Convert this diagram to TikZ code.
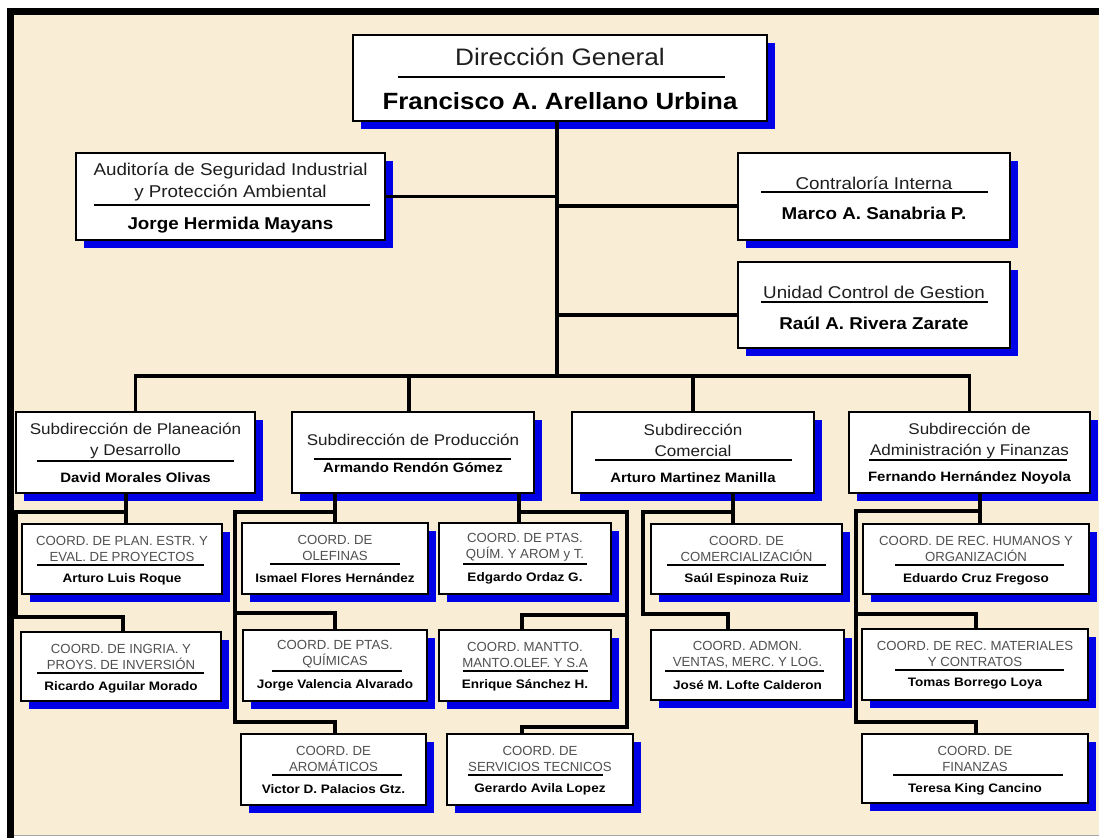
\documentclass[tikz,border=0pt]{standalone}
\usepackage{fontspec}
\setmainfont{Liberation Sans}[FakeStretch=1.1]
\newfontfamily\plainsans{Liberation Sans}
\usetikzlibrary{shadows}
\definecolor{bg}{RGB}{249,237,214}
\definecolor{shblue}{RGB}{0,0,230}
\definecolor{tgray}{RGB}{80,80,80}
\definecolor{tdark}{RGB}{30,30,30}
\tikzset{
  box/.style={draw=black, line width=2pt, fill=white, inner sep=0pt, outer sep=0pt,
    drop shadow={shadow xshift=8pt, shadow yshift=-8pt, fill=shblue, opacity=1}},
  conn/.style={draw=black, line width=3.8pt, line join=miter},
  uline/.style={draw=black, line width=1.6pt},
  dgt/.style={font=\fontsize{23.8}{28}\selectfont, text=tdark, inner sep=0pt},
  dgn/.style={font=\fontsize{23.5}{28}\selectfont\bfseries, inner sep=0pt},
  lt/.style={font=\fontsize{17.1}{22}\selectfont, text=tdark, align=center, inner sep=0pt},
  ln/.style={font=\fontsize{17.1}{22}\selectfont\bfseries, inner sep=0pt},
  st/.style={font=\fontsize{15.5}{21}\selectfont, text=tdark, align=center, inner sep=0pt},
  sn/.style={font=\fontsize{13.6}{16}\selectfont\bfseries, inner sep=0pt},
  ct/.style={font=\plainsans\fontsize{13.2}{16}\selectfont, text=tgray, align=center, inner sep=0pt},
  cn/.style={font=\fontsize{12.3}{15}\selectfont\bfseries, inner sep=0pt}
}
\newcommand\obox[5]{\node[box, minimum width={(#4)-(#2)}, minimum height={(#5)-(#3)}] (#1) at ({((#2)+(#4))/2},{((#3)+(#5))/2}) {};}
\newcommand\cbox[9]{%
  \obox{#1}{#2}{#3}{#4}{#5}
  \node[ct] (#1t) at ({((#2)+(#4))/2},{(#3)+24.5}) {#6};
  \draw[uline] (#8,{(#3)+41}) -- (#9,{(#3)+41});
  \node[cn] (#1n) at ({((#2)+(#4))/2},{(#3)+55}) {#7};
}
\begin{document}
\begin{tikzpicture}[x=1pt,y=-1pt]
\useasboundingbox (0,0) rectangle (1099,838);
\fill[white] (0,0) rectangle (1099,838);
\fill[bg] (12,13) rectangle (1099,835);
\fill[black] (7,8) rectangle (14,838);
\fill[black] (7,8) rectangle (1099,15);
\draw[gray!70, line width=1.5pt] (14,835.5) -- (1099,835.5);

% level 1
\obox{dg}{353}{35}{767}{121}
\node[dgt] (dgt) at (560,57) {Dirección General};
\draw[uline] (398,77) -- (725,77);
\node[dgn] (dgn) at (560,101) {Francisco A. Arellano Urbina};

% level 2
\obox{aud}{76}{153}{385}{240}
\node[lt] (audt) at (230.5,182) {Auditoría de Seguridad Industrial\\y Protección Ambiental};
\draw[uline] (94,205) -- (370,205);
\node[ln] (audn) at (230.5,225) {Jorge Hermida Mayans};

\obox{ci}{738}{153}{1010}{240}
\node[lt] (cit) at (874,183) {Contraloría Interna};
\draw[uline] (761,192) -- (988,192);
\node[ln] (cin) at (874,213) {Marco A. Sanabria P.};

\obox{ucg}{738}{262}{1010}{348}
\node[lt] (ucgt) at (874,292) {Unidad Control de Gestion};
\draw[uline] (761,302) -- (988,302);
\node[ln] (ucgn) at (874,323) {Raúl A. Rivera Zarate};

% level 3
\obox{s1}{16}{412}{255}{493}
\node[st] (s1t) at (135.5,440.5) {Subdirección de Planeación\\y Desarrollo};
\draw[uline] (37,461) -- (234,461);
\node[sn] (s1n) at (135.5,478) {David Morales Olivas};

\obox{s2}{292}{412}{534}{493}
\node[st] (s2t) at (413,440) {Subdirección de Producción};
\draw[uline] (314,459) -- (511,459);
\node[sn] (s2n) at (413,468) {Armando Rendón Gómez};

\obox{s3}{572}{412}{814}{493}
\node[st] (s3t) at (693,440.5) {Subdirección\\Comercial};
\draw[uline] (595,460) -- (792,460);
\node[sn] (s3n) at (693,478) {Arturo Martinez Manilla};

\obox{s4}{849}{412}{1090}{493}
\node[st] (s4t) at (969.5,440.5) {Subdirección de\\Administración y Finanzas};
\draw[uline] (869,460) -- (1067,460);
\node[sn] (s4n) at (969.5,478) {Fernando Hernández Noyola};

% level 4
\cbox{c1}{22}{524}{222}{594}{COORD. DE PLAN. ESTR. Y\\EVAL. DE PROYECTOS}{Arturo Luis Roque}{37}{204}
\cbox{c2}{21}{632}{221}{701}{COORD. DE INGRIA. Y\\PROYS. DE INVERSIÓN}{Ricardo Aguilar Morado}{37}{204}
\cbox{c3}{242}{523}{428}{594}{COORD. DE\\OLEFINAS}{Ismael Flores Hernández}{270}{400}
\cbox{c4}{243}{630}{427}{701}{COORD. DE PTAS.\\QUÍMICAS}{Jorge Valencia Alvarado}{272}{402}
\cbox{c5}{241}{734}{426}{805}{COORD. DE\\AROMÁTICOS}{Victor D. Palacios Gtz.}{272}{402}
\cbox{c6}{439}{523}{611}{594}{COORD. DE PTAS.\\QUÍM. Y AROM y T.}{Edgardo Ordaz G.}{463}{587}
\cbox{c7}{439}{630}{611}{701}{COORD. MANTTO.\\MANTO.OLEF. Y S.A}{Enrique Sánchez H.}{463}{588}
\cbox{c8}{447}{734}{633}{805}{COORD. DE\\SERVICIOS TECNICOS}{Gerardo Avila Lopez}{468}{603}
\cbox{c9}{651}{524}{842}{594}{COORD. DE\\COMERCIALIZACIÓN}{Saúl Espinoza Ruiz}{667}{826}
\cbox{c10}{651}{630}{844}{700}{COORD. ADMON.\\VENTAS, MERC. Y LOG.}{José M. Lofte Calderon}{665}{824}
\cbox{c11}{863}{524}{1089}{594}{COORD. DE REC. HUMANOS Y\\ORGANIZACIÓN}{Eduardo Cruz Fregoso}{895}{1064}
\cbox{c12}{862}{629}{1088}{700}{COORD. DE REC. MATERIALES\\Y CONTRATOS}{Tomas Borrego Loya}{895}{1064}
\cbox{c13}{862}{734}{1088}{803}{COORD. DE\\FINANZAS}{Teresa King Cancino}{893}{1063}

% connectors level 1-3
\coordinate (trunk) at (557,376);
\draw[conn] (dg.south -| trunk) -- (trunk);
\draw[conn] (aud.east) -- (aud.east -| trunk);
\coordinate (ciy) at (0,206);
\draw[conn] (ci.west |- ciy) -- (trunk |- ciy);
\coordinate (ucy) at (0,315);
\draw[conn] (ucg.west |- ucy) -- (trunk |- ucy);
\draw[conn] (s1.north) -- (s1.north |- trunk) -- (s4.north |- trunk) -- (s4.north);
\coordinate (s2k) at (409,0);
\draw[conn] (s2.north -| s2k) -- (s2k |- trunk);
\draw[conn] (s3.north) -- (s3.north |- trunk);

% Planeacion
\coordinate (pk) at (126,512); \coordinate (pl) at (16,512); \coordinate (pj) at (123,617);
\draw[conn] (s1.south -| pk) -- (c1.north -| pk);
\draw[conn] (pk) -- (pl) -- (pl |- pj) -- (pj) -- (c2.north -| pj);
% Produccion left
\coordinate (qk) at (335,512); \coordinate (ql) at (235,512);
\coordinate (qa) at (335,613); \coordinate (qb) at (335,722);
\draw[conn] (s2.south -| qk) -- (c3.north -| qk);
\draw[conn] (qk) -- (ql) -- (ql |- qb) -- (qb) -- (c5.north -| qb);
\draw[conn] (ql |- qa) -- (qa) -- (c4.north -| qa);
% Produccion right
\coordinate (rk) at (519,512); \coordinate (rl) at (627,512);
\coordinate (ra) at (522,615); \coordinate (rb) at (522,727);
\draw[conn] (s2.south -| rk) -- (c6.north -| rk);
\draw[conn] (rk) -- (rl) -- (rl |- rb) -- (rb) -- (c8.north -| rb);
\draw[conn] (rl |- ra) -- (ra) -- (c7.north -| ra);
% Comercial
\coordinate (mk) at (733,512); \coordinate (ml) at (643,512); \coordinate (ma) at (728,614);
\draw[conn] (s3.south -| mk) -- (c9.north -| mk);
\draw[conn] (mk) -- (ml) -- (ml |- ma) -- (ma) -- (c10.north -| ma);
% Administracion
\coordinate (ak) at (980,511); \coordinate (al) at (856,511);
\coordinate (aa) at (976,614); \coordinate (ab) at (976,722);
\draw[conn] (s4.south -| ak) -- (c11.north -| ak);
\draw[conn] (ak) -- (al) -- (al |- ab) -- (ab) -- (c13.north -| ab);
\draw[conn] (al |- aa) -- (aa) -- (c12.north -| aa);
\end{tikzpicture}
\end{document}
